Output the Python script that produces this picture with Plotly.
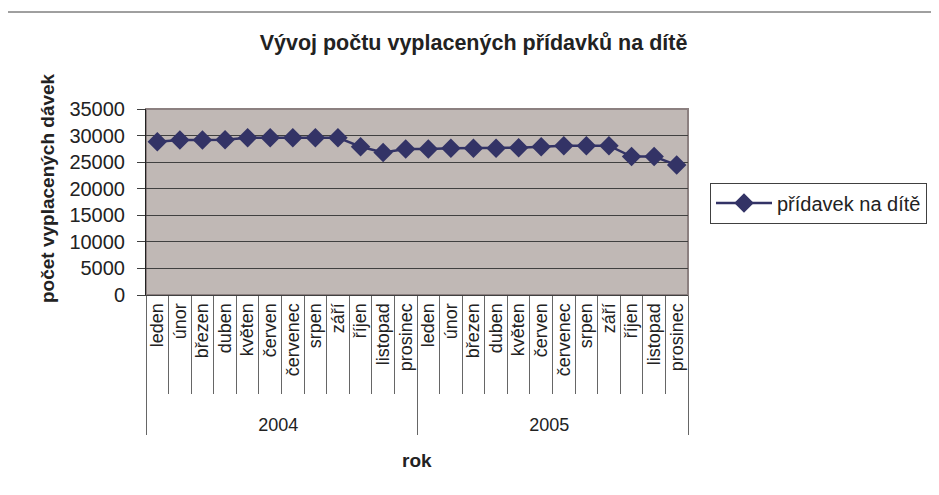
import plotly.graph_objects as go

years = ["2004"] * 12 + ["2005"] * 12
months = ["leden", "únor", "březen", "duben", "květen", "červen",
          "červenec", "srpen", "září", "říjen", "listopad", "prosinec"] * 2
values = [28850, 29170, 29170, 29200, 29600, 29600, 29600, 29600, 29600,
          27900, 26800, 27450,
          27450, 27600, 27600, 27600, 27700, 27900, 28100, 28100, 28100,
          26050, 26050, 24450]
y_ticks = [0, 5000, 10000, 15000, 20000, 25000, 30000, 35000]

FONT = "Liberation Sans, Arial, sans-serif"
NAVY = "#333366"
TXT = "#222222"

# page body has an 8px margin, so the figure is shrunk by 8px to fit the window
W, H = 931, 487
L, T = 138, 101
PW, PH = 542, 186
R, B = W - L - PW, H - T - PH

def px(xpage):
    return (xpage - 146) / PW

def py(ypage):
    return (295 - ypage) / PH

# invisible leading padding so the year row sits lower, as in the original
month_labels = ["\u00a0\u00a0\u00a0\u00a0" + m for m in months]

fig = go.Figure()
fig.add_trace(go.Scatter(
    x=[years, month_labels], y=values, mode="lines+markers",
    name="přídavek na dítě",
    line=dict(color=NAVY, width=2.5),
    marker=dict(symbol="diamond", size=15, color=NAVY),
))

fig.update_layout(
    width=W, height=H,
    margin=dict(l=L, r=R, t=T, b=B, autoexpand=False),
    paper_bgcolor="white", plot_bgcolor="#C0B8B5",
    font=dict(family=FONT, size=18, color=TXT),
    title=dict(text="<b>Vývoj počtu vyplacených přídavků na dítě</b>",
               x=0.5, xanchor="center", y=1 - 34 / H, yanchor="middle",
               font=dict(size=21.5, color=TXT)),
    showlegend=True,
    legend=dict(x=px(710), xanchor="left", y=py(203), yanchor="middle",
                bordercolor="#404040", borderwidth=1, bgcolor="white",
                itemwidth=56,
                font=dict(size=20, color=TXT)),
    xaxis=dict(
        type="multicategory", range=[-0.5, 23.5], dtick=1,
        tickangle=-90, tickfont=dict(size=18, color=TXT),
        ticks="outside", ticklen=98, tickcolor="#666666", tickwidth=1,
        dividercolor="#666666", dividerwidth=1,
        showline=True, linecolor="#404040", linewidth=1,
        showgrid=False,
    ),
    yaxis=dict(
        range=[0, 35000], tickvals=y_ticks, ticktext=[str(v) for v in y_ticks],
        ticks="outside", ticklen=8, tickcolor="#404040",
        ticklabelstandoff=8,
        showline=True, linecolor="#222222", linewidth=1,
        showgrid=True, gridcolor="#404040", gridwidth=1,
        zeroline=False, tickfont=dict(size=20, color=TXT),
    ),
    annotations=[
        dict(text="<b>počet vyplacených dávek</b>", textangle=-90,
             xref="paper", yref="paper", x=px(47), y=py(188),
             xanchor="center", yanchor="middle", showarrow=False,
             font=dict(size=19, color=TXT)),
        dict(text="<b>rok</b>", xref="paper", yref="paper",
             x=px(417), y=py(460), xanchor="center", yanchor="middle",
             showarrow=False, font=dict(size=19, color=TXT)),
    ],
)

# plot frame and outer chart border
fig.add_shape(type="rect", xref="paper", yref="paper", x0=0, x1=1, y0=0, y1=1,
              line=dict(color="#8C8080", width=2), layer="below")
fig.add_shape(type="rect", xref="paper", yref="paper",
              x0=px(7), x1=px(960), y0=py(520), y1=py(12),
              line=dict(color="#404040", width=1))

fig.write_html("out.html")
